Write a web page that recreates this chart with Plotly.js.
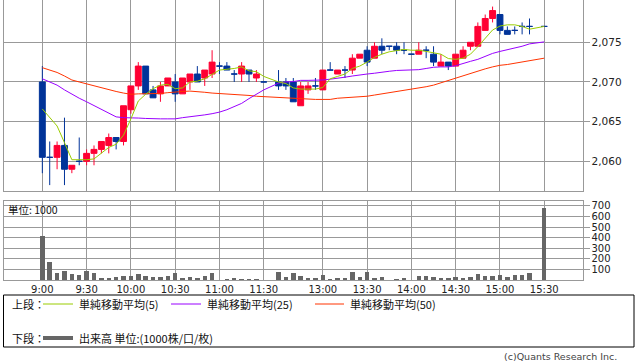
<!DOCTYPE html>
<html><head><meta charset="utf-8">
<script src="https://cdn.plot.ly/plotly-3.0.1.min.js"></script>
<style>html,body{margin:0;padding:0;background:#fff;}#chart{width:638px;height:362px;}</style>
</head><body><div id="chart"></div>
<script>
// ---- data ----
const times = ["9:00","9:05","9:10","9:15","9:20","9:25","9:30","9:35","9:40","9:45","9:50","9:55",
"10:00","10:05","10:10","10:15","10:20","10:25","10:30","10:35","10:40","10:45","10:50","10:55",
"11:00","11:05","11:10","11:15","11:20","11:25","11:30",
"12:30","12:35","12:40","12:45","12:50","12:55",
"13:00","13:05","13:10","13:15","13:20","13:25","13:30","13:35","13:40","13:45","13:50","13:55",
"14:00","14:05","14:10","14:15","14:20","14:25","14:30","14:35","14:40","14:45","14:50","14:55",
"15:00","15:05","15:10","15:15","15:20","15:30"];
const openP = [2070,2060.5,2060.5,2062,2059,2060,2060,2061,2061.5,2062,2063,2062.5,
2066.5,2069.5,2072,2069,2068.5,2069.5,2070,2068.5,2070,2071,2070.5,2071,
2072,2072,2071,2071,2071.5,2070.5,2070,
2070,2070,2070,2067,2069,2069.5,
2069,2071.5,2071,2071.5,2071.5,2073,2074,2073,2074.5,2074.5,2074.5,2074,
2073.5,2073.5,2074,2073.5,2072,2072.5,2072,2073,2074.5,2074.5,2076.5,2078,
2078.5,2076.5,2076.5,2077,2077,2077];
const highP = [2072,2062.5,2062.5,2065.5,2059.5,2063,2061.5,2062,2062.5,2063.5,2063,2067,
2069.5,2072.5,2072,2069.5,2070,2070.5,2071,2070.5,2071,2072,2071.5,2074,
2072.5,2072.5,2071.5,2072.5,2071.5,2071.5,2070,
2071.5,2070.5,2070.5,2070,2070,2070.5,
2071.5,2072.5,2071.5,2072,2073.5,2073.5,2074.5,2075,2075.5,2074.5,2075,2075,
2073.5,2075,2074.5,2074.5,2073.5,2072.5,2073.5,2074.5,2075,2077.5,2078.5,2079.5,
2078.5,2077,2077,2077.5,2078,2077];
const lowP = [2058.5,2057,2059,2057,2058.5,2059.5,2059.5,2059.5,2061,2061,2061.5,2062,
2066,2069,2068.5,2068,2067.5,2069.5,2067.5,2068.5,2069,2070,2069.5,2070.5,
2071,2071.5,2070,2070,2070,2070,2070,
2069,2069,2067.5,2067,2068.5,2069,
2069,2071.5,2071,2070.5,2071,2073,2072,2073,2073.5,2074,2073.5,2073.5,
2073.5,2073.5,2073,2072,2072,2071.5,2072,2073,2074,2074.5,2076.5,2077.5,
2076,2076,2076,2076,2076,2077];
const closeP = [2060.5,2060.5,2062,2059,2059.5,2060,2061,2061.5,2062.5,2063,2062.5,2067,
2069.5,2072,2068.5,2068,2069.5,2070.5,2068.5,2070.5,2071,2070,2071.5,2072.5,
2072,2071.5,2071,2072,2071,2071,2070,
2069.5,2069.5,2067.5,2069.5,2069.5,2069.5,
2071.5,2071.5,2071.5,2071.5,2073,2073.5,2072.5,2074.5,2074,2074.5,2074,2074,
2073.5,2074,2074,2072.5,2072.5,2072,2073.5,2074,2075,2077,2078,2079,
2076.5,2076,2076.5,2077,2077,2077];
const volume = [411,168,65,90,56,47,90,65,19,19,28,37,
37,56,37,31,31,40,65,19,28,19,40,65,
3,12,19,12,9,9,2,
75,31,65,40,19,19,
47,9,19,19,75,28,75,19,28,1,9,19,
1,37,37,28,19,19,28,19,28,56,37,37,
47,28,47,47,65,679];
const ma5 = [2066.6,2065.55,2064.45,2062.35,2060.2,2060.2,2060.2,2060.3,2061.05,2061.75,2062.15,2063.3,
2065.35,2067.6,2068.45,2069.15,2069.6,2069.7,2069.15,2069.25,2070.0,2070.1,2070.4,2071.0,
2071.5,2071.6,2071.7,2071.9,2071.4,2071.3,2070.7,
2070.0,2069.8,2069.25,2069.1,2069.1,2069.1,
2069.3,2070.4,2070.7,2071.0,2071.7,2072.0,2072.5,2073.1,2073.5,2073.8,2073.95,2074.1,
2074.0,2074.0,2073.85,2073.7,2073.5,2072.95,2072.85,2073.0,2073.5,2074.45,2075.5,2076.55,
2077.05,2077.2,2077.2,2077.0,2076.65,2077.0];
const ma25 = [2070.4,2070.0,2069.6,2069.0,2068.45,2067.95,2067.5,2067.0,2066.5,2066.0,2065.6,2065.5,
2065.5,2065.45,2065.4,2065.35,2065.35,2065.35,2065.35,2065.5,2065.6,2065.75,2065.85,2066.0,
2066.2,2066.5,2066.9,2067.3,2067.9,2068.45,2069.0,
2069.85,2070.0,2070.05,2070.2,2070.2,2070.2,
2070.25,2070.35,2070.45,2070.6,2070.75,2070.9,2071.0,2071.1,2071.25,2071.35,2071.45,2071.5,
2071.5,2071.55,2071.7,2071.85,2071.9,2071.9,2072.05,2072.35,2072.6,2072.85,2073.25,2073.6,
2073.85,2074.05,2074.25,2074.5,2074.8,2075.05];
const ma50 = [2071.8,2071.5,2071.2,2070.75,2070.25,2070.0,2069.75,2069.5,2069.25,2069.0,2068.8,2068.6,
2068.45,2068.5,2068.5,2068.5,2068.55,2068.65,2068.75,2068.8,2068.85,2068.8,2068.7,2068.6,
2068.55,2068.5,2068.45,2068.4,2068.3,2068.2,2068.15,
2068.05,2068.0,2067.9,2067.85,2067.8,2067.8,
2067.8,2067.8,2067.95,2068.0,2068.05,2068.1,2068.2,2068.35,2068.5,2068.6,2068.8,2068.9,
2069.05,2069.25,2069.4,2069.6,2069.9,2070.2,2070.5,2070.75,2071.05,2071.4,2071.65,2071.9,
2072.1,2072.2,2072.35,2072.5,2072.65,2073.0];
const tickLabels = ["9:00","9:30","10:00","10:30","11:00","11:30","13:00","13:30","14:00","14:30","15:00","15:30"];
const priceTicks = [2060,2065,2070,2075];
const volTicks = [100,200,300,400,500,600,700];

// ---- scale helpers ----
function slotOf(t){const p=t.split(':').map(Number);const m=p[0]*60+p[1];return m<=690?(m-540)/5:(m-750)/5+32;}
const xs = times.map(slotOf);
const tickVals = tickLabels.map(slotOf);
const W=638,H=362;
const px=x=>x/W, py=y=>1-y/H;

const UP='#ff0033', DN='#003399';
const C5='#99cc00', C25='#9900ff', C50='#ff3300', VOL='#666666', GRID='#999999';

function pick(arr,mask){return arr.filter((_,i)=>mask[i]);}
const isUp = closeP.map((c,i)=>c>openP[i]);
const isDn = isUp.map(v=>!v);
function candle(mask,col){
  return {type:'candlestick',x:pick(xs,mask),open:pick(openP,mask),high:pick(highP,mask),low:pick(lowP,mask),close:pick(closeP,mask),
    xaxis:'x',yaxis:'y',hoverinfo:'skip',showlegend:false,whiskerwidth:0,
    increasing:{line:{color:col,width:1},fillcolor:col},decreasing:{line:{color:col,width:1},fillcolor:col}};
}
function maLine(y,col){return {type:'scatter',mode:'lines',x:xs,y:y,xaxis:'x',yaxis:'y',line:{color:col,width:1},connectgaps:true,hoverinfo:'skip',showlegend:false};}

const traces=[
  maLine(ma50,C50), maLine(ma25,C25), maLine(ma5,C5),
  candle(isUp,UP), candle(isDn,DN),
  {type:'bar',x:xs,y:volume,xaxis:'x2',yaxis:'y2',width:0.6,marker:{color:VOL,line:{width:0}},hoverinfo:'skip',showlegend:false}
];

const xr=[-5.26,73.18];
const font={family:'DejaVu Sans, sans-serif',size:10,color:'#222'};
const cjk='Noto Sans CJK JP, sans-serif';
function ann(x,y,text,opt){return Object.assign({xref:'paper',yref:'paper',x:px(x),y:py(y),text:text,showarrow:false,xanchor:'left',yanchor:'middle',font:{family:cjk,size:11,color:'#111'}},opt||{});}
function hline(x0,x1,y,col,w){return {type:'line',xref:'paper',yref:'paper',x0:px(x0),x1:px(x1),y0:py(y),y1:py(y),line:{color:col,width:w}};}

const layout={
  width:W,height:H,margin:{l:0,r:0,t:0,b:0},paper_bgcolor:'#fff',plot_bgcolor:'#fff',
  showlegend:false,boxgap:0.2,boxgroupgap:0,bargap:0,font:font,
  xaxis:{domain:[px(3.5),px(582.5)],range:xr,anchor:'y',tickvals:tickVals,ticktext:tickLabels,showticklabels:false,
    showgrid:true,gridcolor:GRID,gridwidth:1,showline:true,linecolor:GRID,linewidth:1,mirror:true,zeroline:false,ticks:'',
    rangeslider:{visible:false},fixedrange:true},
  yaxis:{domain:[py(190.5),1],range:[2056.32,2080.33],anchor:'x',side:'right',tickvals:priceTicks,
    ticktext:priceTicks.map(v=>v.toLocaleString('en-US')),showgrid:true,gridcolor:GRID,gridwidth:1,showline:true,linecolor:GRID,
    linewidth:1,mirror:true,zeroline:false,ticks:'outside',ticklen:6,tickcolor:GRID,tickfont:{family:'DejaVu Sans, sans-serif',size:10.5,color:'#222'},fixedrange:true},
  xaxis2:{domain:[px(3.5),px(582.5)],range:xr,anchor:'y2',tickvals:tickVals,ticktext:tickLabels,
    showgrid:true,gridcolor:GRID,gridwidth:1,showline:true,linecolor:GRID,linewidth:1,mirror:true,zeroline:false,ticks:'',
    tickfont:{family:'DejaVu Sans, sans-serif',size:10,color:'#222'},fixedrange:true},
  yaxis2:{domain:[py(280.3),py(201)],range:[0,744],anchor:'x2',side:'right',tickvals:volTicks,
    showgrid:true,gridcolor:GRID,gridwidth:1,showline:true,linecolor:GRID,linewidth:1,mirror:true,zeroline:false,ticks:'outside',
    ticklen:6,tickcolor:GRID,tickfont:{family:'DejaVu Sans, sans-serif',size:10,color:'#222'},fixedrange:true},
  shapes:[
    {type:'rect',xref:'paper',yref:'paper',x0:px(3.5),x1:px(634),y0:py(347),y1:py(295),line:{color:'#000',width:1},fillcolor:'rgba(0,0,0,0)'},
    hline(43,73,304,C5,1), hline(171,201,304,C25,1), hline(315,344,304,C50,1), hline(43,73,338,VOL,4)
  ],
  annotations:[
    ann(6,209,'単位: 1000',{font:{family:cjk,size:10.5,color:'#111'}}),
    ann(10,304,'上段：'), ann(77,304,'単純移動平均(5)'), ann(205,304,'単純移動平均(25)'), ann(348,304,'単純移動平均(50)'),
    ann(10,338,'下段：'), ann(77,338,'出来高 単位:(1000株/口/枚)'),
    ann(619,356,'(c)Quants Research Inc.',{xanchor:'right',font:{family:'DejaVu Sans, sans-serif',size:9.5,color:'#444'}})
  ]
};
Plotly.newPlot('chart',traces,layout,{staticPlot:true,displayModeBar:false});
</script></body></html>
